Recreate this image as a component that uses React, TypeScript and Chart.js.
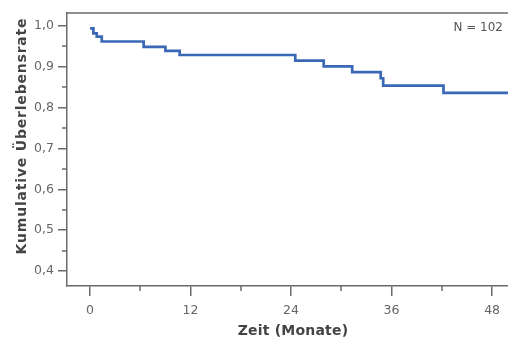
import React, { useEffect, useRef } from "react";
import { Chart, registerables } from "chart.js";

Chart.register(...registerables);

// Kaplan-Meier curve (months, cumulative survival)
const eventTimes: number[] = [0, 0.4, 0.8, 1.4, 6.4, 9.0, 10.7, 24.5, 27.9, 31.3, 34.7, 35.0, 42.2, 50];
const survival: number[] = [0.994, 0.982, 0.974, 0.962, 0.949, 0.939, 0.929, 0.915, 0.901, 0.887, 0.872, 0.854, 0.836, 0.836];

const xMajorTicks: number[] = [0, 12, 24, 36, 48];
const xMinorTicks: number[] = [6, 18, 30, 42];
const yMajorTicks: number[] = [0.4, 0.5, 0.6, 0.7, 0.8, 0.9, 1.0];
const yMinorTicks: number[] = [0.45, 0.55, 0.65, 0.75, 0.85, 0.95];

const xTitle = "Zeit (Monate)";
const yTitle = "Kumulative Überlebensrate";
const nLabel = "N = 102";

const AXIS_COLOR = "#6a6a6a";
const TICK_TEXT = "#666666";
const TITLE_COLOR = "#444444";
const LINE_COLOR = "#3a67b6";
const FONT = "'DejaVu Sans', Verdana, sans-serif";

export default function App() {
  const ref = useRef<HTMLCanvasElement | null>(null);

  useEffect(() => {
    if (!ref.current) return;
    const decor = {
      id: "decor",
      afterDraw(chart: any) {
        const ctx = chart.ctx as any;
        const a = chart.chartArea;
        const xs = chart.scales.x;
        const ys = chart.scales.y;
        ctx.save();
        ctx.strokeStyle = AXIS_COLOR;
        ctx.lineWidth = 1.5;
        // top frame line
        ctx.beginPath();
        ctx.moveTo(a.left, a.top);
        ctx.lineTo(a.right, a.top);
        ctx.stroke();
        // minor ticks
        ctx.beginPath();
        xMinorTicks.forEach((v) => {
          const px = Math.round(xs.getPixelForValue(v));
          ctx.moveTo(px, a.bottom);
          ctx.lineTo(px, a.bottom + 5);
        });
        yMinorTicks.forEach((v) => {
          const py = Math.round(ys.getPixelForValue(v));
          ctx.moveTo(a.left - 5, py);
          ctx.lineTo(a.left, py);
        });
        ctx.stroke();
        // axis titles
        ctx.fillStyle = TITLE_COLOR;
        ctx.font = `bold 14px ${FONT}`;
        ctx.textAlign = "center";
        ctx.textBaseline = "middle";
        ctx.letterSpacing = "0.2px";
        ctx.fillText(xTitle, 293, 331);
        ctx.save();
        ctx.translate(22, 136);
        ctx.rotate(-Math.PI / 2);
        ctx.letterSpacing = "0.8px";
        ctx.fillText(yTitle, 0, 0);
        ctx.restore();
        ctx.letterSpacing = "0px";
        // N label
        ctx.fillStyle = "#555555";
        ctx.font = `12px ${FONT}`;
        ctx.textAlign = "right";
        ctx.fillText(nLabel, 503, 28);
        ctx.restore();
      },
    };

    const chart = new Chart(ref.current, {
      type: "line",
      data: {
        datasets: [
          {
            data: eventTimes.map((t, i) => ({ x: t, y: survival[i] })),
            borderColor: LINE_COLOR,
            borderWidth: 2.7,
            pointRadius: 0,
            stepped: "before",
            fill: false,
          },
        ],
      },
      options: {
        responsive: false,
        animation: false,
        layout: { padding: { top: 13, right: 0, left: 0, bottom: 0 } },
        plugins: { legend: { display: false }, tooltip: { enabled: false } },
        scales: {
          x: {
            type: "linear",
            min: -2.75,
            max: 49.9,
            afterBuildTicks: (s: any) => {
              s.ticks = xMajorTicks.map((v) => ({ value: v }));
            },
            afterFit: (s: any) => {
              s.height = 55;
            },
            grid: {
              display: true,
              drawOnChartArea: false,
              drawTicks: true,
              tickLength: 10,
              color: AXIS_COLOR,
              lineWidth: 1.5,
            },
            border: { display: true, color: AXIS_COLOR, width: 1.5 },
            ticks: {
              color: TICK_TEXT,
              font: { family: FONT, size: 12.5 },
              padding: 7,
              maxRotation: 0,
              callback: (v: any) => String(v),
            },
          },
          y: {
            type: "linear",
            min: 0.3633,
            max: 1.0318,
            afterBuildTicks: (s: any) => {
              s.ticks = yMajorTicks.map((v) => ({ value: v }));
            },
            afterFit: (s: any) => {
              s.width = 67;
            },
            grid: {
              display: true,
              drawOnChartArea: false,
              drawTicks: true,
              tickLength: 9,
              color: AXIS_COLOR,
              lineWidth: 1.5,
            },
            border: { display: true, color: AXIS_COLOR, width: 1.5 },
            ticks: {
              color: TICK_TEXT,
              font: { family: FONT, size: 12.5 },
              padding: 4,
              callback: (v: any) => Number(v).toFixed(1).replace(".", ","),
            },
          },
        },
      },
      plugins: [decor],
    });
    return () => chart.destroy();
  }, []);

  return (
    <div style={{ position: "absolute", left: 0, top: 0, width: 508, height: 341, background: "#fff" }}>
      <canvas ref={ref} width={508} height={341} style={{ display: "block" }} />
    </div>
  );
}
